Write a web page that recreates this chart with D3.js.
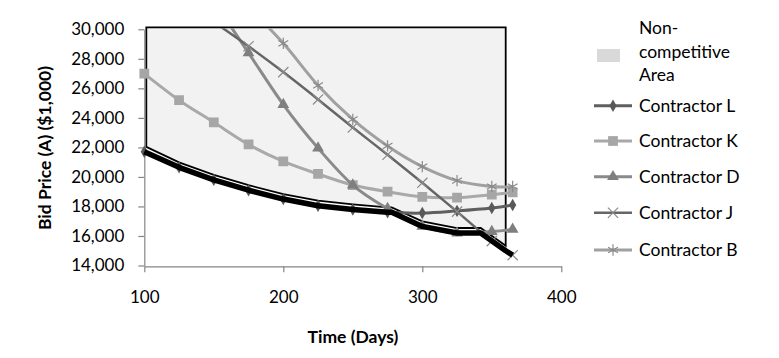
<!DOCTYPE html>
<html>
<head>
<meta charset="utf-8">
<script src="https://cdn.jsdelivr.net/npm/d3@7"></script>
<style>
  body { margin: 0; background: #fff; }
  text { font-family: Lato, "Open Sans", sans-serif; fill: #000; }
</style>
</head>
<body>
<svg id="chart"></svg>
<script>
// data
const days = [100, 125, 150, 175, 200, 225, 250, 275, 300, 325, 350, 365];
const contractorL = [21700, 20650, 19800, 19100, 18500, 18050, 17800, 17600, 17550, 17700, 17900, 18100];
const contractorK = [27000, 25200, 23700, 22200, 21050, 20200, 19450, 19000, 18650, 18600, 18800, 18950];
const daysD = [150, 175, 200, 225, 250, 275, 300, 325, 350, 365];
const contractorD = [31900, 28400, 24900, 21950, 19450, 17850, 16650, 16200, 16300, 16450];
const daysJ = [150, 175, 200, 225, 250, 275, 300, 325, 350, 365];
const contractorJ = [30500, 28850, 27100, 25250, 23350, 21500, 19600, 17650, 15650, 14700];
const daysB = [175, 200, 225, 250, 275, 300, 325, 350, 365];
const contractorB = [31500, 29050, 26200, 23900, 22100, 20700, 19750, 19350, 19350];

// lowest bid line and non-competitive area limits
const envDays = [100, 125, 150, 175, 200, 225, 250, 275, 278, 300, 325, 342, 360, 365];
const envBids = [21700, 20650, 19800, 19100, 18500, 18050, 17800, 17600, 17600, 16650, 16200, 16200, 15000, 14700];
const areaTop = 30000;
const areaEnd = 360;

const xTicks = [100, 200, 300, 400];
const yTicks = [14000, 16000, 18000, 20000, 22000, 24000, 26000, 28000, 30000];

const w = 779, h = 358;
const svg = d3.select('#chart').attr('width', w).attr('height', h);

const x = d3.scaleLinear().domain([100, 400]).range([144.3, 561.3]);
const y = d3.scaleLinear().domain([14000, 30000]).range([265.5, 29.3]);

const series = [
	{ name: 'Contractor L', xs: days, ys: contractorL, color: '#5f5f5f', mark: '#595959', width: 3, sym: d3.symbolDiamond, size: 45, fill: true },
	{ name: 'Contractor K', xs: days, ys: contractorK, color: '#a9a9a9', mark: '#a6a6a6', width: 3, sym: d3.symbolSquare, size: 95, fill: true },
	{ name: 'Contractor D', xs: daysD, ys: contractorD, color: '#8a8a8a', mark: '#7f7f7f', width: 3, sym: d3.symbolTriangle, size: 60, fill: true },
	{ name: 'Contractor J', xs: daysJ, ys: contractorJ, color: '#666666', mark: '#8a8a8a', width: 2.5, sym: d3.symbolTimes, size: 70, fill: false },
	{ name: 'Contractor B', xs: daysB, ys: contractorB, color: '#a0a0a0', mark: '#8a8a8a', width: 3, sym: d3.symbolAsterisk, size: 90, fill: false }
];

// non-competitive area
const env = envDays.map((d, i) => [d, envBids[i]]).filter(p => p[0] <= areaEnd);
let areaPts = [[x(100) + 2, y(areaTop) - 2], [x(areaEnd), y(areaTop) - 2]];
env.slice().reverse().forEach(p => areaPts.push([p[0] === 100 ? x(p[0]) + 2 : x(p[0]), y(p[1]) - 5]));
svg.append('path')
	.attr('d', 'M' + areaPts.map(p => p.join(',')).join('L') + 'Z')
	.attr('fill', '#f2f2f2')
	.attr('stroke', '#000')
	.attr('stroke-width', 1.8);

// axes
const yAxis = svg.append('g')
	.attr('transform', `translate(${x(100)},0)`)
	.call(d3.axisLeft(y).tickValues(yTicks).tickFormat(d3.format(',')).tickSize(6).tickSizeOuter(0).tickPadding(14));
const xAxis = svg.append('g')
	.attr('transform', `translate(0,${y(14000) + 0.8})`)
	.call(d3.axisBottom(x).tickValues(xTicks).tickSize(6).tickSizeOuter(0).tickPadding(19));
[yAxis, xAxis].forEach(a => {
	a.selectAll('path, line').attr('stroke', '#868686').attr('stroke-width', 1.2);
	a.selectAll('text').style('font-size', '17px').style('font-family', 'Lato, sans-serif').attr('fill', '#000');
});

svg.append('defs').append('clipPath').attr('id', 'plotclip')
	.append('rect').attr('x', x(100) - 10).attr('y', y(areaTop) - 1)
	.attr('width', x(400) - x(100) + 20).attr('height', y(14000) - y(areaTop) + 12);

const plot = svg.append('g').attr('clip-path', 'url(#plotclip)');
const line = d3.line().curve(d3.curveCatmullRom.alpha(0)).x(d => x(d[0])).y(d => y(d[1]));

// contractor bids
series.forEach(s => {
	const pts = s.xs.map((d, i) => [d, s.ys[i]]);
	plot.append('path')
		.attr('d', line(pts))
		.attr('fill', 'none')
		.attr('stroke', s.color)
		.attr('stroke-width', s.width);
	plot.selectAll(null)
		.data(pts.filter(p => p[1] <= areaTop))
		.enter()
		.append('path')
		.attr('transform', d => `translate(${x(d[0])},${y(d[1])})`)
		.attr('d', d3.symbol(s.sym, s.size))
		.attr('fill', s.fill ? s.mark : 'none')
		.attr('stroke', s.mark)
		.attr('stroke-width', s.fill ? 0 : 1.2);
});

// lowest bid
const envLine = d3.line().x(d => x(d[0])).y(d => y(d[1]));
plot.append('path')
	.attr('d', envLine(envDays.map((d, i) => [d, envBids[i]])))
	.attr('fill', 'none')
	.attr('stroke', '#000')
	.attr('stroke-width', 5.5)
	.attr('stroke-linejoin', 'round');

// legend
const lg = svg.append('g');
lg.append('rect').attr('x', 597).attr('y', 49).attr('width', 23).attr('height', 13).attr('fill', '#d9d9d9');
['Non-', 'competitive', 'Area'].forEach((t, i) => {
	lg.append('text').attr('x', 639).attr('y', 28 + i * 23.5).attr('dy', '0.35em')
		.style('font-size', '17.5px').text(t);
});
const legendY = [105.7, 141, 176.7, 212.7, 250];
series.forEach((s, i) => {
	const ly = legendY[i];
	lg.append('line').attr('x1', 594).attr('x2', 632).attr('y1', ly).attr('y2', ly)
		.attr('stroke', s.color).attr('stroke-width', s.width);
	lg.append('path')
		.attr('transform', `translate(613,${ly})`)
		.attr('d', d3.symbol(s.sym, s.size))
		.attr('fill', s.fill ? s.mark : 'none')
		.attr('stroke', s.mark)
		.attr('stroke-width', s.fill ? 0 : 1.2);
	lg.append('text').attr('x', 639).attr('y', ly).attr('dy', '0.35em')
		.style('font-size', '17.5px').text(s.name);
});

// axis titles
svg.append('text')
	.attr('transform', 'translate(45,148) rotate(-90)')
	.attr('text-anchor', 'middle').attr('dy', '0.35em')
	.style('font-size', '17.5px').style('font-weight', 'bold')
	.text('Bid Price (A) ($1,000)');
svg.append('text')
	.attr('x', 353).attr('y', 337).attr('dy', '0.35em')
	.attr('text-anchor', 'middle')
	.style('font-size', '17.5px').style('font-weight', 'bold')
	.text('Time (Days)');
</script>
</body>
</html>
